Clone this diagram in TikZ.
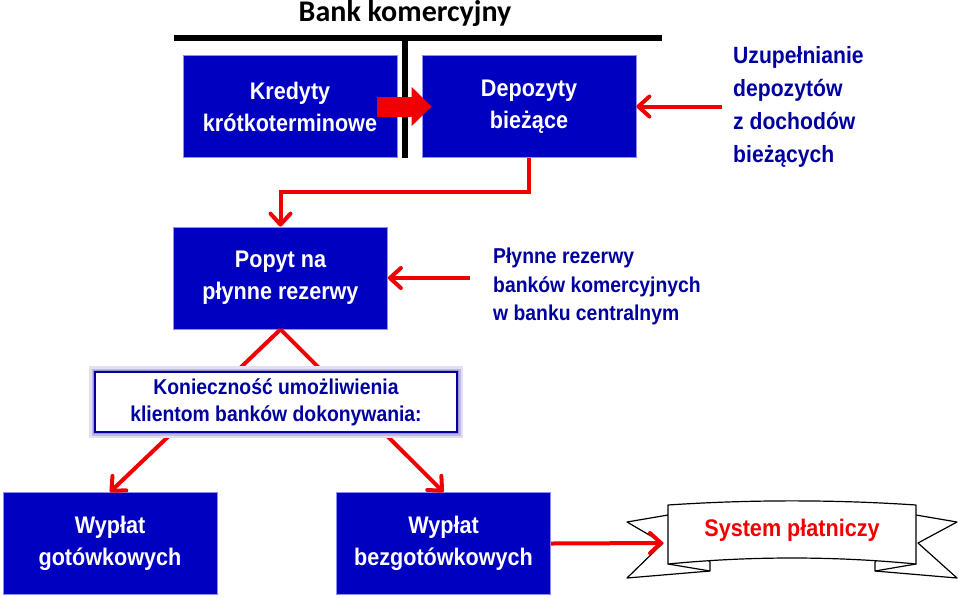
\documentclass[tikz,border=0pt]{standalone}
\usepackage{fontspec}
\setmainfont{Liberation Sans}
\newfontfamily\narrowfont[FakeStretch=0.9]{Liberation Sans}
\newfontfamily\titlefont{Carlito}
\usetikzlibrary{arrows.meta}
\definecolor{boxblue}{RGB}{0,0,192}
\definecolor{txtblue}{RGB}{0,0,160}
\definecolor{arrred}{RGB}{240,0,0}
\definecolor{glow}{RGB}{140,130,195}

\begin{document}
\begin{tikzpicture}[x=1pt,y=-1pt,
  bluebox/.style={fill=boxblue, draw=blue!45!white, line width=0.8pt, text=white,
    font=\narrowfont\bfseries\fontsize{24}{32}\selectfont, align=center,
    minimum width=214pt, minimum height=102pt, inner sep=0pt},
  bluetext/.style={text=txtblue, font=\narrowfont\bfseries\fontsize{23.5}{33}\selectfont,
    align=left, inner ysep=0pt},
  redarrow/.style={draw=arrred, line width=4pt, -{Straight Barb[length=11pt,width=20pt,round]}},
  ribbon/.style={draw=black, fill=white, line width=1.2pt, line join=round},
  ]
\useasboundingbox (0,0) rectangle (960,598);

% bank komercyjny
\node[font=\titlefont\bfseries\fontsize{30}{30}\selectfont, inner sep=0pt] (title) at (405,14) {Bank komercyjny};
\coordinate (barL) at (174,38);
\coordinate (barR) at (662,38);
\coordinate (barM) at (405,38);
\coordinate (barB) at (405,158);
\draw[line width=6pt] (barL) -- (barR);
\draw[line width=6pt] (barM) -- (barB);

\node[bluebox] (kred) at (290,106.5) {Kredyty\\krótkoterminowe};
\node[bluebox] (dep) at (529,106.5) {Depozyty\\bieżące};
\node[bluetext, inner xsep=11pt, anchor=west] (uzup) at (722,107) {Uzupełnianie\\depozytów\\z dochodów\\bieżących};

\draw[arrred, line width=20pt, -{Triangle[length=20pt,width=38pt]}] ([xshift=-20pt]kred.east) -- ([xshift=10pt]dep.west);
\draw[redarrow] (uzup.west |- dep.east) -- (dep.east);

% rezerwy
\node[bluebox] (popyt) at (280.5,278) {Popyt na\\płynne rezerwy};
\node[bluetext, font=\narrowfont\bfseries\fontsize{21.5}{28.5}\selectfont, inner xsep=23pt, anchor=west] (plyn) at (470,286.5) {Płynne rezerwy\\banków komercyjnych\\w banku centralnym};
\draw[redarrow] (dep.south) -- ++(0,34) -| (popyt.north);
\draw[redarrow] (plyn.west |- popyt.east) -- (popyt.east);

% wyplaty
\node[bluebox] (gotow) at (110,543.5) {Wypłat\\gotówkowych};
\node[bluebox] (bezgot) at (443.5,543.5) {Wypłat\\bezgotówkowych};
\draw[redarrow] (popyt.south) -- (gotow.north);
\draw[redarrow] (popyt.south) -- (bezgot.north);
\node[draw=txtblue, line width=1.2pt, fill=white, text=txtblue,
  preaction={draw=glow!25!white, line width=12pt},
  preaction={draw=glow!55!white, line width=7pt},
  preaction={draw=glow!85!white, line width=3.5pt},
  font=\narrowfont\bfseries\fontsize{21.5}{27}\selectfont, align=center,
  minimum width=362pt, minimum height=60pt, inner sep=0pt] (konieczn) at (276,402)
  {Konieczność umożliwienia\\klientom banków dokonywania:};

% wstega
\draw[ribbon] (668,515) -- (627,522) -- (663,543) -- (627,578) -- (710,571) -- (710,562) -- cycle;
\draw[ribbon] (916,515) -- (957,522) -- (918,543) -- (957,578) -- (875,571) -- (875,562) -- cycle;
\draw[ribbon] (668,564) -- (710,571);
\draw[ribbon] (916,564) -- (875,571);
\draw[ribbon] (668,505) .. controls (750,499.5) and (834,499.5) .. (916,505)
  -- (916,564) .. controls (834,556) and (750,556) .. (668,564) -- cycle;
\node[text=arrred, font=\narrowfont\bfseries\fontsize{24}{24}\selectfont, inner sep=0pt] (sys) at (792,530) {System płatniczy};
\coordinate (notch) at (663,543);
\draw[redarrow] (bezgot.east) -- (notch);
\end{tikzpicture}
\end{document}
